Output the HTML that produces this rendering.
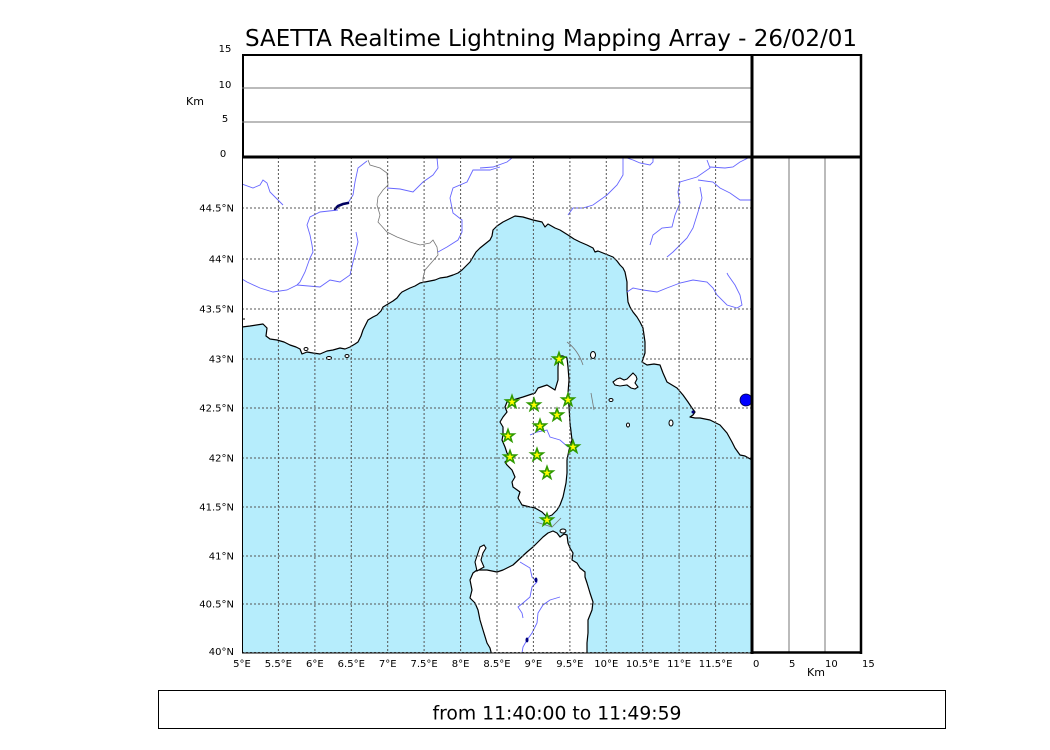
<!DOCTYPE html>
<html><head><meta charset="utf-8"><style>
html,body{margin:0;padding:0;background:#fff;width:1050px;height:750px;overflow:hidden}
svg{display:block}
text{font-family:"DejaVu Sans","Liberation Sans",sans-serif;fill:#000}
</style></head><body>
<svg width="1050" height="750" viewBox="0 0 1050 750" xmlns="http://www.w3.org/2000/svg">
<defs>
<clipPath id="mc"><rect x="242" y="157" width="510" height="496"/></clipPath>
<path id="st" d="M0,-6.5 L1.53,-2.1 L6.18,-2.01 L2.47,0.8 L3.82,5.26 L0,2.6 L-3.82,5.26 L-2.47,0.8 L-6.18,-2.01 L-1.53,-2.1 Z" fill="#ffff00" stroke="#2f9a00" stroke-width="1.6" stroke-linejoin="miter"/>
</defs>

<text x="551" y="46" font-size="23" text-anchor="middle" textLength="612" lengthAdjust="spacingAndGlyphs">SAETTA Realtime Lightning Mapping Array - 26/02/01</text>

<!-- MAP -->
<g clip-path="url(#mc)">
<rect x="242" y="157" width="510" height="496" fill="#b6edfc"/>
<!-- mainland -->
<path fill="#fff" stroke="#000" stroke-width="1.2" stroke-linejoin="round" d="M238,150 L238,327 L242,327 L250,326 L263,324 L267,328 L266,336 L270,339 L277,340 L284,342 L290,345 L296,347 L300,349 L302,354 L307,352 L313,353 L320,354 L327,351 L333,350 L340,348 L345,349 L350,347 L355,344 L358,342 L361,336 L363,330 L366,324 L368,320 L373,317 L377,315 L381,311 L383,307 L388,304 L393,301 L397,298 L400,294 L402,292 L406,290 L410,288 L415,286 L420,283 L425,282 L430,281 L435,280 L440,278 L447,277 L453,275 L458,273 L462,270 L466,266 L470,262 L473,257 L476,252 L480,248 L485,244 L490,240 L492,236 L493,230 L497,226 L503,222 L509,219 L515,216 L523,217 L533,220 L542,222 L545,227 L548,224 L555,228 L560,230 L568,235 L574,239 L580,242 L587,245 L593,248 L595,252 L598,251 L603,253 L608,255 L613,257 L617,261 L620,265 L623,268 L625,272 L627,282 L627,290 L628,302 L630,307 L633,312 L637,317 L640,322 L643,328 L645,342 L645,353 L642,362 L647,365 L654,364 L660,365 L663,373 L667,382 L672,385 L677,388 L683,395 L688,402 L692,408 L695,412 L693,415 L690,417 L695,418 L700,418 L710,420 L720,425 L727,433 L732,442 L735,448 L740,455 L745,456 L752,460 L758,460 L758,150 Z"/>
<!-- Corsica -->
<path fill="#fff" stroke="#000" stroke-width="1.2" stroke-linejoin="round" d="M559,356 L563,356 L567,358 L568,367 L569,380 L568,393 L569,407 L570,423 L572,440 L569,450 L567,460 L567,473 L566,483 L563,497 L560,505 L557,510 L552,515 L547,517 L542,512 L535,508 L530,507 L522,505 L518,498 L520,492 L513,487 L512,482 L515,477 L512,470 L507,465 L505,462 L510,458 L507,453 L505,447 L502,440 L503,435 L503,427 L500,422 L503,417 L507,412 L505,407 L507,402 L513,400 L523,397 L535,393 L538,388 L547,385 L555,390 L558,380 L558,367 Z"/>
<!-- Sardinia -->
<path fill="#fff" stroke="#000" stroke-width="1.2" stroke-linejoin="round" d="M548,533 L553,531 L557,533 L560,537 L564,534 L567,535 L568,543 L570,548 L573,553 L572,560 L577,563 L580,568 L585,572 L585,577 L587,583 L590,593 L593,602 L592,610 L588,620 L588,633 L587,643 L587,660 L493,660 L490,648 L487,643 L483,630 L480,620 L478,610 L475,603 L470,598 L472,590 L470,580 L473,573 L477,570 L487,570 L497,572 L503,570 L513,565 L527,552 L533,547 L543,537 Z"/>
<path fill="#fff" stroke="#000" stroke-width="1.1" d="M477,571 L475,562 L478,553 L480,547 L484,545 L486,548 L483,553 L481,560 L484,567 Z"/>
<ellipse cx="563" cy="531" rx="3" ry="2" fill="#fff" stroke="#000" stroke-width="1"/>
<!-- Elba & islands -->
<path fill="#fff" stroke="#000" stroke-width="1.1" d="M613,382 L617,379 L620,378 L624,380 L627,379 L631,375 L633,373 L636,376 L637,379 L635,383 L638,387 L635,389 L631,388 L627,385 L620,386 L615,385 Z"/>
<ellipse cx="593" cy="355" rx="2.5" ry="3.5" fill="#fff" stroke="#000" stroke-width="1"/>
<ellipse cx="611" cy="400" rx="2" ry="1.5" fill="#fff" stroke="#000" stroke-width="1"/>
<ellipse cx="628" cy="425" rx="1.5" ry="2" fill="#fff" stroke="#000" stroke-width="1"/>
<ellipse cx="671" cy="423" rx="2" ry="3" fill="#fff" stroke="#000" stroke-width="1"/>
<ellipse cx="306" cy="349" rx="2" ry="1.5" fill="#fff" stroke="#000" stroke-width="1"/>
<ellipse cx="329" cy="358" rx="2.5" ry="1.5" fill="#fff" stroke="#000" stroke-width="1"/>
<ellipse cx="347" cy="356" rx="2" ry="1.5" fill="#fff" stroke="#000" stroke-width="1"/>
<ellipse cx="693" cy="412" rx="1.5" ry="1.5" fill="#000080"/>
<path d="M242,319 L245,319" stroke="#000" stroke-width="1"/>

<!-- borders (gray) -->
<g fill="none" stroke="#777" stroke-width="0.8">
<path d="M368,160 L370,165 L380,168 L387,173 L388,185 L383,190 L378,197 L377,205 L380,215 L378,222 L387,232 L397,237 L410,242 L420,245 L430,243 L433,240 L437,247 L438,255 L432,262 L425,270 L423,278 L423,283"/>
<path d="M567,342 Q578,350 583,365"/>
<path d="M591,393 L594,410"/>
<path d="M536,522 L552,527 L561,518"/>
</g>

<!-- rivers -->
<g fill="none" stroke="#6666ff" stroke-width="0.9">
<path d="M242,184 L253,188 L260,185 L263,180 L267,183 L270,192 L283,205"/>
<path d="M367,161 L358,168 L355,182 L353,195 L348,203"/>
<path d="M338,210 L320,212 L310,217 L307,225 L310,235 L312,245 L313,252 L310,258 L305,272 L300,282 L297,285 L287,290 L273,292 L260,288 L247,282 L242,279"/>
<path d="M297,285 L320,287 L330,280 L340,282 L350,275 L353,262 L358,242 L356,232"/>
<path d="M437,158 L438,168 L433,175 L423,182 L413,192 L400,189 L387,188"/>
<path d="M500,167 L490,170 L473,170 L467,182 L453,188 L450,198 L453,213 L462,220 L462,232 L458,240 L447,247 L438,252"/>
<path d="M480,168 L493,167 L507,162 L512,158"/>
<path d="M623,158 L623,175 L617,185 L607,195 L593,205 L583,208 L573,208 L568,215"/>
<path d="M627,158 L633,160 L640,163 L650,165 L653,162 L653,158"/>
<path d="M707,160 L710,168 L697,177 L680,182 L678,192 L680,203 L675,215 L672,227 L662,228 L653,235 L650,245"/>
<path d="M710,167 L725,168 L733,167 L740,162 L748,158"/>
<path d="M698,180 L713,182 L720,188 L730,193 L740,200 L752,200"/>
<path d="M700,187 L702,198 L698,212 L693,228 L687,238 L680,245 L673,252 L667,257"/>
<path d="M627,292 L633,288 L643,290 L657,292 L667,288 L680,283 L693,280 L707,282 L713,288 L717,295 L727,305 L737,308 L742,305 L740,295 L735,285 L728,275 L727,273"/>
<path d="M530,435 L537,432 L547,430 L550,437 L560,440 L568,447"/>
<path d="M520,562 L530,568 L532,577 L537,582 L532,587 L530,597 L523,603 L518,607 L522,613 L523,618"/>
<path d="M560,597 L550,600 L543,605 L538,613 L537,623 L532,633 L527,640 L523,647 L522,653"/>
</g>
<path d="M335,209 L338,206 L343,204 L348,203" fill="none" stroke="#000060" stroke-width="2.6" stroke-linecap="round"/>
<ellipse cx="536" cy="580" rx="1.5" ry="2.5" fill="#000080"/>
<ellipse cx="527" cy="640" rx="1.5" ry="2.5" fill="#000080"/>
<circle cx="746" cy="400" r="6" fill="#0000ff" stroke="#000033" stroke-width="0.8"/>

<!-- grid -->
<g stroke="#555" stroke-width="1" stroke-dasharray="2,2" fill="none">
<path d="M278.4,157V653 M314.9,157V653 M351.3,157V653 M387.7,157V653 M424.1,157V653 M460.6,157V653 M497,157V653 M533.4,157V653 M569.9,157V653 M606.3,157V653 M642.7,157V653 M679.1,157V653 M715.6,157V653"/>
<path d="M242,208H752 M242,259H752 M242,309H752 M242,359H752 M242,408H752 M242,458H752 M242,507H752 M242,556H752 M242,604H752 M242,652.5H752"/>
</g>

<!-- stars -->
<use href="#st" x="559" y="359"/>
<use href="#st" x="512" y="402"/>
<use href="#st" x="534" y="405"/>
<use href="#st" x="568" y="400"/>
<use href="#st" x="557" y="415"/>
<use href="#st" x="540" y="426"/>
<use href="#st" x="508" y="436"/>
<use href="#st" x="573" y="447"/>
<use href="#st" x="537" y="455"/>
<use href="#st" x="510" y="457"/>
<use href="#st" x="547" y="473"/>
<use href="#st" x="547" y="520"/>
</g>

<!-- frames -->
<line x1="242.5" y1="157" x2="242.5" y2="653" stroke="#000" stroke-width="1"/>
<line x1="242" y1="653" x2="752" y2="653" stroke="#000" stroke-width="1"/>
<rect x="243" y="55" width="509" height="102" fill="none" stroke="#000" stroke-width="2"/>
<line x1="242" y1="88" x2="752" y2="88" stroke="#777" stroke-width="1"/>
<line x1="242" y1="122" x2="752" y2="122" stroke="#777" stroke-width="1"/>
<line x1="789" y1="157" x2="789" y2="653" stroke="#777" stroke-width="1"/>
<line x1="825" y1="157" x2="825" y2="653" stroke="#777" stroke-width="1"/>
<line x1="752" y1="55" x2="862" y2="55" stroke="#000" stroke-width="2"/>
<line x1="861" y1="54" x2="861" y2="654" stroke="#000" stroke-width="2.5"/>
<line x1="752" y1="652.5" x2="862" y2="652.5" stroke="#000" stroke-width="2.5"/>
<line x1="242" y1="157" x2="862" y2="157" stroke="#000" stroke-width="3"/>
<line x1="752" y1="54" x2="752" y2="654" stroke="#000" stroke-width="3"/>

<!-- top panel labels -->
<g font-size="10" text-anchor="middle">
<text x="225" y="52">15</text>
<text x="225" y="88">10</text>
<text x="225" y="122">5</text>
<text x="223" y="157">0</text>
</g>
<text x="195" y="105" font-size="11" text-anchor="middle">Km</text>

<!-- lat labels -->
<g font-size="10" text-anchor="end">
<text x="234" y="211.5">44.5°N</text>
<text x="234" y="262.5">44°N</text>
<text x="234" y="312.5">43.5°N</text>
<text x="234" y="362.5">43°N</text>
<text x="234" y="411.5">42.5°N</text>
<text x="234" y="461.5">42°N</text>
<text x="234" y="510.5">41.5°N</text>
<text x="234" y="559.5">41°N</text>
<text x="234" y="607.5">40.5°N</text>
<text x="234" y="655">40°N</text>
</g>
<!-- lon labels -->
<g font-size="10" text-anchor="middle">
<text x="242" y="667">5°E</text>
<text x="278.4" y="667">5.5°E</text>
<text x="314.9" y="667">6°E</text>
<text x="351.3" y="667">6.5°E</text>
<text x="387.7" y="667">7°E</text>
<text x="424.1" y="667">7.5°E</text>
<text x="460.6" y="667">8°E</text>
<text x="497" y="667">8.5°E</text>
<text x="533.4" y="667">9°E</text>
<text x="569.9" y="667">9.5°E</text>
<text x="606.3" y="667">10°E</text>
<text x="642.7" y="667">10.5°E</text>
<text x="679.1" y="667">11°E</text>
<text x="715.6" y="667">11.5°E</text>
</g>
<g font-size="10" text-anchor="start">
<text x="753" y="667">0</text>
<text x="789" y="667">5</text>
<text x="825" y="667">10</text>
<text x="862" y="667">15</text>
</g>
<text x="816" y="676" font-size="11" text-anchor="middle">Km</text>

<!-- bottom box -->
<rect x="158.5" y="690.5" width="787" height="38" fill="#fff" stroke="#000" stroke-width="1"/>
<text x="557" y="719.5" font-size="18.7" text-anchor="middle" textLength="249" lengthAdjust="spacingAndGlyphs">from 11:40:00 to 11:49:59</text>
</svg>
</body></html>
